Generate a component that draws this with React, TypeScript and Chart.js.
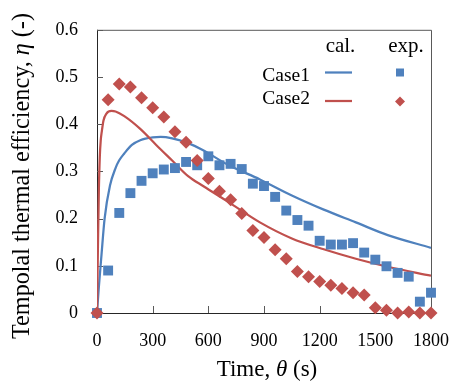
import React, { useEffect, useRef } from 'react';
import { Chart, registerables } from 'chart.js';

Chart.register(...registerables);

// ---- data ----
const expTimes = [0, 60, 120, 180, 240, 300, 360, 420, 480, 540, 600, 660, 720, 780, 840, 900, 960, 1020, 1080, 1140, 1200, 1260, 1320, 1380, 1440, 1500, 1560, 1620, 1680, 1740, 1800];
const case1Exp = [0, 0.09, 0.212, 0.254, 0.28, 0.296, 0.304, 0.307, 0.32, 0.313, 0.332, 0.313, 0.316, 0.305, 0.274, 0.269, 0.246, 0.217, 0.197, 0.185, 0.153, 0.145, 0.145, 0.148, 0.128, 0.113, 0.099, 0.085, 0.077, 0.024, 0.043];
const case2Exp = [0, 0.452, 0.485, 0.479, 0.456, 0.435, 0.415, 0.384, 0.362, 0.323, 0.285, 0.258, 0.24, 0.211, 0.175, 0.16, 0.134, 0.115, 0.088, 0.077, 0.067, 0.059, 0.052, 0.043, 0.038, 0.011, 0.006, 0, 0.002, 0, 0];

const case1CalTimes = [0, 10, 24, 41, 70, 100, 119, 147, 188, 233, 300, 343, 405, 491, 567, 705, 878, 1050, 1222, 1395, 1567, 1800];
const case1Cal = [0, 0.055, 0.122, 0.2, 0.27, 0.307, 0.323, 0.338, 0.356, 0.366, 0.372, 0.373, 0.37, 0.36, 0.346, 0.314, 0.283, 0.249, 0.219, 0.192, 0.165, 0.138];

const case2CalTimes = [0, 5, 10, 15, 20, 26, 35, 50, 78, 100, 147, 233, 319, 405, 491, 576, 705, 878, 1050, 1222, 1395, 1567, 1800];
const case2Cal = [0, 0.14, 0.26, 0.33, 0.365, 0.385, 0.408, 0.422, 0.428, 0.427, 0.417, 0.39, 0.356, 0.323, 0.29, 0.268, 0.236, 0.192, 0.158, 0.135, 0.115, 0.098, 0.079];

const xTicks = [0, 300, 600, 900, 1200, 1500, 1800];
const yTicks = [0, 0.1, 0.2, 0.3, 0.4, 0.5, 0.6];

const seriesNames = ['Case1', 'Case2'];
const legendHeaders = ['cal.', 'exp.'];
const xTitleParts = ['Time, ', 'θ', ' (s)'];
const yTitleParts = ['Tempolal thermal efficiency, ', 'η', ' (-)'];

const BLUE = '#4F81BD';
const RED = '#C0504D';
const FONT = "'Liberation Serif', 'Times New Roman', serif";

const toXY = (xs: number[], ys: number[]) => xs.map((x, i) => ({ x, y: ys[i] }));

function drawParts(ctx: CanvasRenderingContext2D, parts: string[], size: number, cx: number, baseY: number) {
  const fonts = parts.map((_, i) => (i === 1 ? `italic ${size}px ${FONT}` : `${size}px ${FONT}`));
  let total = 0;
  const widths = parts.map((p, i) => {
    ctx.font = fonts[i];
    const w = ctx.measureText(p).width;
    total += w;
    return w;
  });
  let x = cx - total / 2;
  ctx.textAlign = 'left';
  ctx.textBaseline = 'alphabetic';
  parts.forEach((p, i) => {
    ctx.font = fonts[i];
    ctx.fillText(p, x, baseY);
    x += widths[i];
  });
}

const framePlugin = {
  id: 'frame',
  beforeDatasetsDraw(chart: any) {
    const { ctx, chartArea: a, scales } = chart;
    ctx.save();
    ctx.strokeStyle = '#595959';
    ctx.lineWidth = 1;
    ctx.beginPath();
    ctx.moveTo(a.left, a.top + 0.5);
    ctx.lineTo(a.right + 0.5, a.top + 0.5);
    ctx.lineTo(a.right + 0.5, a.bottom);
    ctx.stroke();
    ctx.strokeStyle = '#262626';
    ctx.beginPath();
    ctx.moveTo(a.left + 0.5, a.top);
    ctx.lineTo(a.left + 0.5, a.bottom + 0.5);
    ctx.lineTo(a.right + 0.5, a.bottom + 0.5);
    ctx.stroke();
    ctx.strokeStyle = '#595959';
    ctx.beginPath();
    yTicks.forEach((v) => {
      const y = Math.round(scales.y.getPixelForValue(v)) + 0.5;
      ctx.moveTo(a.left, y);
      ctx.lineTo(a.left + 6, y);
    });
    xTicks.forEach((v) => {
      const x = Math.round(scales.x.getPixelForValue(v)) + 0.5;
      ctx.moveTo(x, a.bottom);
      ctx.lineTo(x, a.bottom - 7);
    });
    ctx.stroke();
    ctx.restore();
  },
  afterDraw(chart: any) {
    const { ctx, chartArea: a } = chart;
    ctx.save();
    ctx.fillStyle = '#000';
    drawParts(ctx, xTitleParts, 23, (a.left + a.right) / 2 + 3, 376);
    ctx.save();
    ctx.translate(28.5, 176);
    ctx.rotate(-Math.PI / 2);
    drawParts(ctx, yTitleParts, 24.2, 0, 0);
    ctx.restore();

    ctx.font = `21px ${FONT}`;
    ctx.textBaseline = 'alphabetic';
    ctx.textAlign = 'center';
    ctx.fillText(legendHeaders[0], 340.5, 52);
    ctx.fillText(legendHeaders[1], 406, 52);
    ctx.font = `19.5px ${FONT}`;
    ctx.textAlign = 'right';
    ctx.fillText(seriesNames[0], 310, 80.5);
    ctx.fillText(seriesNames[1], 310, 104);
    ctx.lineWidth = 2.25;
    ctx.strokeStyle = BLUE;
    ctx.beginPath();
    ctx.moveTo(325, 72.5);
    ctx.lineTo(352, 72.5);
    ctx.stroke();
    ctx.strokeStyle = RED;
    ctx.beginPath();
    ctx.moveTo(325, 101);
    ctx.lineTo(352, 101);
    ctx.stroke();
    ctx.fillStyle = BLUE;
    ctx.fillRect(400 - 4, 72.5 - 4, 8, 8);
    ctx.fillStyle = RED;
    ctx.beginPath();
    ctx.moveTo(400, 101.5 - 5);
    ctx.lineTo(405, 101.5);
    ctx.lineTo(400, 101.5 + 5);
    ctx.lineTo(395, 101.5);
    ctx.closePath();
    ctx.fill();
    ctx.restore();
  },
};

export default function App() {
  const ref = useRef<HTMLCanvasElement | null>(null);

  useEffect(() => {
    if (!ref.current) return;
    const tickFont = { family: FONT, size: 18 };
    const chart = new Chart(ref.current, {
      type: 'scatter',
      data: {
        datasets: [
          {
            label: 'Case2 exp.',
            data: toXY(expTimes, case2Exp),
            pointStyle: 'rectRot',
            pointRadius: 6.5,
            backgroundColor: RED,
            borderColor: RED,
            borderWidth: 0,
            showLine: false,
            clip: false,
            order: 0,
          },
          {
            label: 'Case1 exp.',
            data: toXY(expTimes, case1Exp),
            pointStyle: 'rect',
            pointRadius: 7,
            backgroundColor: BLUE,
            borderColor: BLUE,
            borderWidth: 0,
            showLine: false,
            clip: false,
            order: 1,
          },
          {
            label: 'Case2 cal.',
            data: toXY(case2CalTimes, case2Cal),
            showLine: true,
            pointRadius: 0,
            borderColor: RED,
            borderWidth: 2.25,
            cubicInterpolationMode: 'monotone',
            fill: false,
            order: 2,
          },
          {
            label: 'Case1 cal.',
            data: toXY(case1CalTimes, case1Cal),
            showLine: true,
            pointRadius: 0,
            borderColor: BLUE,
            borderWidth: 2.25,
            cubicInterpolationMode: 'monotone',
            fill: false,
            order: 3,
          },
        ],
      },
      options: {
        animation: false,
        responsive: false,
        maintainAspectRatio: false,
        layout: { padding: { top: 15, right: 21, left: 0, bottom: 0 } },
        plugins: { legend: { display: false }, tooltip: { enabled: false } },
        scales: {
          x: {
            type: 'linear',
            min: 0,
            max: 1800,
            afterBuildTicks: (s: any) => {
              s.ticks = xTicks.map((v) => ({ value: v }));
            },
            afterFit: (s: any) => {
              s.height = 69;
            },
            ticks: { font: tickFont, color: '#000', padding: 17, maxRotation: 0, autoSkip: false, callback: (v: any) => String(v) },
            grid: { display: false, drawTicks: false },
            border: { display: false },
          },
          y: {
            type: 'linear',
            min: 0,
            max: 0.6,
            afterBuildTicks: (s: any) => {
              s.ticks = yTicks.map((v) => ({ value: v }));
            },
            afterFit: (s: any) => {
              s.width = 97;
            },
            ticks: { font: tickFont, color: '#000', padding: 19, autoSkip: false, callback: (v: any) => String(v) },
            grid: { display: false, drawTicks: false },
            border: { display: false },
          },
        },
      },
      plugins: [framePlugin],
    } as any);
    return () => chart.destroy();
  }, []);

  return (
    <div style={{ position: 'fixed', left: 0, top: 0, width: 466, height: 382, background: '#fff' }}>
      <canvas ref={ref} width={466} height={382} style={{ display: 'block' }} />
    </div>
  );
}
